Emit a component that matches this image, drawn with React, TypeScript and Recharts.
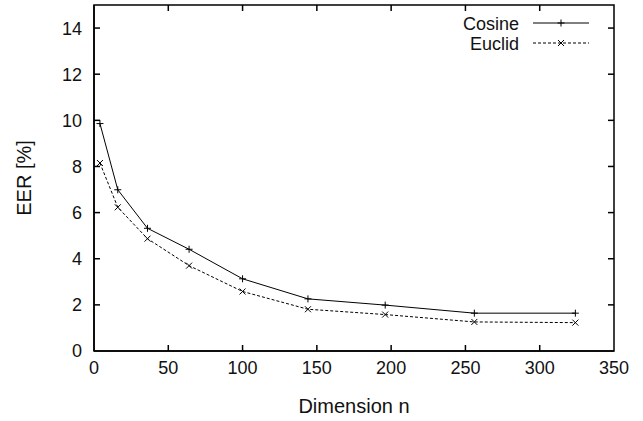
import React from "react";
import { LineChart, Line, XAxis, YAxis, Legend, ReferenceLine, ReferenceArea } from "recharts";

const nValues = [4, 16, 36, 64, 100, 144, 196, 256, 324];
const cosineEER = [9.86, 6.99, 5.32, 4.41, 3.13, 2.26, 1.99, 1.64, 1.64];
const euclidEER = [8.15, 6.23, 4.87, 3.7, 2.58, 1.81, 1.58, 1.26, 1.23];
const xTicks = [0, 50, 100, 150, 200, 250, 300, 350];
const yTicks = [0, 2, 4, 6, 8, 10, 12, 14];

const X_MIN = 0, X_MAX = 350, Y_MIN = 0, Y_MAX = 15;
const data = nValues.map((n, i) => ({ n, cosine: cosineEER[i], euclid: euclidEER[i] }));

const FONT = "'Liberation Sans', Arial, Helvetica, sans-serif";
const TICK_LEN = 6;
const PLOT_W = 520;
const PLOT_H = 346;
const FRAME_W = 1.5;
const xTickLen = (TICK_LEN * (X_MAX - X_MIN)) / PLOT_W;
const yTickLen = (TICK_LEN * (Y_MAX - Y_MIN)) / PLOT_H;
const innerX = xTicks.filter((v) => v > X_MIN && v < X_MAX);
const innerY = yTicks.filter((v) => v > Y_MIN && v < Y_MAX);

const PlusDot = (props: any) => {
  const { cx, cy, index } = props;
  if (cx == null || cy == null) return <g key={`pd${index}`} />;
  const s = 3.5;
  return (
    <path key={`pd${index}`} d={`M${cx - s},${cy}H${cx + s}M${cx},${cy - s}V${cy + s}`} stroke="#000" strokeWidth={1} fill="none" />
  );
};

const CrossDot = (props: any) => {
  const { cx, cy, index } = props;
  if (cx == null || cy == null) return <g key={`cd${index}`} />;
  const s = 3;
  return (
    <path key={`cd${index}`} d={`M${cx - s},${cy - s}L${cx + s},${cy + s}M${cx - s},${cy + s}L${cx + s},${cy - s}`} stroke="#000" strokeWidth={1} fill="none" />
  );
};

const BottomTick = (props: any) => {
  const { x, y, payload, index } = props;
  return (
    <text key={`bt${index}`} x={x} y={y + 23} textAnchor="middle" fontSize={18} fontFamily={FONT} fill="#111">{payload.value}</text>
  );
};

const LeftTick = (props: any) => {
  const { x, y, payload, index } = props;
  return (
    <text key={`lt${index}`} x={x - 12} y={y} dy="0.36em" textAnchor="end" fontSize={18} fontFamily={FONT} fill="#111">{payload.value}</text>
  );
};

const LegendContent = () => (
  <svg width={170} height={50} style={{ display: "block", overflow: "visible" }}>
    <text x={79} y={19.5} textAnchor="end" fontSize={18} fontFamily={FONT} fill="#111">Cosine</text>
    <line x1={93} x2={149} y1={13} y2={13} stroke="#000" strokeWidth={1} />
    <PlusDot cx={121} cy={13} index={0} />
    <text x={79} y={39.5} textAnchor="end" fontSize={18} fontFamily={FONT} fill="#111">Euclid</text>
    <line x1={93} x2={149} y1={33} y2={33} stroke="#000" strokeWidth={1} strokeDasharray="3 2" />
    <CrossDot cx={121} cy={33} index={1} />
  </svg>
);

const YLabel = (props: any) => {
  const vb = props.viewBox || { x: 34, y: 5, width: 60, height: 346 };
  const cx = vb.x - 10;
  const cy = vb.y + vb.height / 2;
  return (
    <text x={cx} y={cy} transform={`rotate(-90 ${cx} ${cy})`} textAnchor="middle" dy="0.36em" fontSize={20} fontFamily={FONT} fill="#111">
      EER [%]
    </text>
  );
};

const XLabel = (props: any) => {
  const vb = props.viewBox || { x: 94, y: 351, width: 520, height: 50 };
  return (
    <text x={vb.x + vb.width / 2} y={vb.y + 62} textAnchor="middle" fontSize={20} fontFamily={FONT} fill="#111">
      Dimension n
    </text>
  );
};

export default function App() {
  return (
    <div style={{ position: "absolute", left: 0, top: 0, width: 643, height: 421, background: "#fff" }}>
      <LineChart width={643} height={421} data={data} margin={{ top: 5, right: 29, bottom: 20, left: 34 }}>
        <XAxis
          dataKey="n"
          type="number"
          domain={[X_MIN, X_MAX]}
          ticks={xTicks}
          interval={0}
          height={50}
          tickSize={0}
          tickMargin={0}
          tickLine={false}
          axisLine={{ stroke: "#000", strokeWidth: FRAME_W }}
          tick={BottomTick}
          label={<XLabel />}
        />
        <YAxis
          type="number"
          domain={[Y_MIN, Y_MAX]}
          ticks={yTicks}
          interval={0}
          width={60}
          tickSize={0}
          tickMargin={0}
          tickLine={false}
          axisLine={{ stroke: "#000", strokeWidth: FRAME_W }}
          tick={LeftTick}
          label={<YLabel />}
        />
        <ReferenceArea
          x1={X_MIN}
          x2={X_MAX}
          y1={Y_MIN}
          y2={Y_MAX}
          ifOverflow="visible"
          fill="none"
          fillOpacity={0}
          stroke="#000"
          strokeOpacity={1}
          strokeWidth={FRAME_W}
        />
        {innerX.map((v) => (
          <ReferenceLine key={`xb${v}`} ifOverflow="visible" segment={[{ x: v, y: Y_MIN }, { x: v, y: Y_MIN + yTickLen }]} stroke="#000" strokeWidth={1.5} />
        ))}
        {innerX.map((v) => (
          <ReferenceLine key={`xt${v}`} ifOverflow="visible" segment={[{ x: v, y: Y_MAX }, { x: v, y: Y_MAX - yTickLen }]} stroke="#000" strokeWidth={1.5} />
        ))}
        {innerY.map((v) => (
          <ReferenceLine key={`yl${v}`} ifOverflow="visible" segment={[{ x: X_MIN, y: v }, { x: X_MIN + xTickLen, y: v }]} stroke="#000" strokeWidth={1.5} />
        ))}
        {innerY.map((v) => (
          <ReferenceLine key={`yr${v}`} ifOverflow="visible" segment={[{ x: X_MAX, y: v }, { x: X_MAX - xTickLen, y: v }]} stroke="#000" strokeWidth={1.5} />
        ))}
        <Legend
          layout="vertical"
          align="center"
          verticalAlign="middle"
          content={<LegendContent />}
          wrapperStyle={{ position: "absolute", left: 440, top: 10, width: 170, height: 50 }}
        />
        <Line type="linear" dataKey="cosine" name="Cosine" stroke="#000" strokeWidth={1} dot={PlusDot} activeDot={false} isAnimationActive={false} />
        <Line type="linear" dataKey="euclid" name="Euclid" stroke="#000" strokeWidth={1} strokeDasharray="3 2" dot={CrossDot} activeDot={false} isAnimationActive={false} />
      </LineChart>
    </div>
  );
}
